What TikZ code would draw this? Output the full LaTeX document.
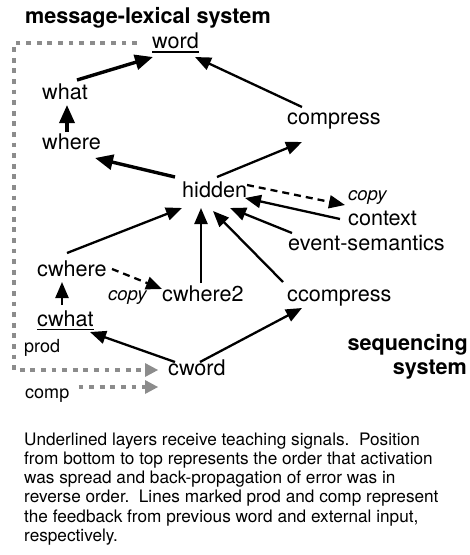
\documentclass[tikz,border=0pt]{standalone}
\usepackage{fontspec}
\setmainfont{TeX Gyre Heros}
\usetikzlibrary{arrows.meta,calc}
\definecolor{fbgray}{HTML}{8C8C8C}
\tikzset{
  lbl/.style={inner sep=0pt, anchor=base west, font=\fontsize{21.6}{26}\selectfont},
  ttl/.style={inner sep=0pt, font=\bfseries\fontsize{21.6}{26}\selectfont},
  cpy/.style={inner sep=0pt, anchor=base west, font=\itshape\fontsize{18.5}{22}\selectfont},
  small/.style={inner sep=0pt, anchor=base west, font=\fontsize{18}{22}\selectfont},
  capline/.style={inner sep=0pt, anchor=base west, font=\fontsize{17.2}{20}\selectfont},
  conn/.style={line width=2.3pt, -{Triangle[length=16pt,width=13pt]}},
  thickconn/.style={line width=3.4pt, -{Triangle[length=18pt,width=15pt]}},
  dconn/.style={conn, dash pattern=on 7pt off 5pt},
  fb/.style={draw=fbgray, line width=4.8pt, dash pattern=on 4.8pt off 5.8pt},
  fbtip/.style={fill=fbgray, draw=none},
  uline/.style={line width=1.5pt}
}
\begin{document}
\begin{tikzpicture}[x=1pt,y=-1pt]
\useasboundingbox (0,0) rectangle (470,555);

% titles
\node[ttl, anchor=base west] (title) at (25,23) {message-lexical system};
\node[ttl, anchor=base east] (seq) at (468,350) {sequencing};
\node[ttl, anchor=base east] (sys) at (467,374) {system};

% layers
\node[lbl] (word) at (152,48) {word};
\node[lbl] (what) at (42,99) {what};
\node[lbl] (where) at (42,149) {where};
\node[lbl] (compress) at (287,124) {compress};
\node[lbl] (hidden) at (182,197) {hidden};
\node[cpy] (copyA) at (348,200) {copy};
\node[lbl] (context) at (348,225) {context};
\node[lbl] (evsem) at (288,250) {event-semantics};
\node[lbl] (cwhere) at (37,276) {cwhere};
\node[cpy] (copyB) at (108,300) {copy};
\node[lbl] (cwhere2) at (162,301) {cwhere2};
\node[lbl] (ccompress) at (287,301) {ccompress};
\node[lbl] (cwhat) at (37,326) {cwhat};
\node[small] (prod) at (24,352) {prod};
\node[lbl] (cword) at (168,375) {cword};
\node[small] (comp) at (25,398) {comp};

% underlines
\draw[uline] ([yshift=-4pt]word.base west) -- ([yshift=-4pt]word.base east);
\draw[uline] ([yshift=-3.5pt]cwhat.base west) -- ([yshift=-3.5pt]cwhat.base east);

% feedback lines
\coordinate (fbTL) at (14,43);
\coordinate (fbBL) at (14,370);
\coordinate (fbS) at ($(word.base west)+(-15,-5)$);
\coordinate (fbE) at ($(cword.base west)+(-23,-5)$);
\draw[fb] (fbS) -- (fbTL) -- (fbBL) -- (fbE);
\fill[fbtip] ($(fbE)+(0,-7)$) -- ($(fbE)+(13,0)$) -- ($(fbE)+(0,7)$) -- cycle;
\coordinate (cpS) at ($(comp.base east)+(9,-11)$);
\coordinate (cpE) at ($(cword.base west)+(-23,12)$);
\draw[fb] (cpS) -- (cpE);
\fill[fbtip] ($(cpE)+(0,-7)$) -- ($(cpE)+(13,0)$) -- ($(cpE)+(0,7)$) -- cycle;

% connectors
\draw[thickconn] ($(what.base west)+(35,-19)$) -- ($(word.base west)+(1,9)$);
\draw[conn] ($(compress.base west)+(15,-17)$) -- ($(word.base west)+(43,9)$);
\draw[thickconn] ($(where.base west)+(25,-17)$) -- ($(what.base west)+(25,6)$);
\draw[thickconn] ($(hidden.base west)+(-7,-20)$) -- ($(where.base west)+(53,9)$);
\draw[conn] ($(hidden.base west)+(35,-20)$) -- ($(compress.base west)+(15,18)$);
\draw[dconn] ($(hidden.base west)+(65,-12)$) -- ($(context.base west)+(-3,-20)$);
\draw[conn] ($(context.base west)+(-8,-6)$) -- ($(hidden.base west)+(63,1)$);
\draw[conn] ($(evsem.base west)+(4,-17)$) -- ($(hidden.base west)+(48,11)$);
\draw[conn] ($(ccompress.base west)+(-4,-19)$) -- ($(hidden.base west)+(31,14)$);
\draw[conn] ($(cwhere2.base west)+(39,-18)$) -- ($(hidden.base west)+(19,11)$);
\draw[conn] ($(cwhere.base west)+(30,-23)$) -- ($(hidden.base west)+(0,11)$);
\draw[dconn] ($(cwhere.base west)+(75,-7)$) -- ($(cwhere2.base west)+(0,-12)$);
\draw[conn] ($(cwhat.base west)+(25,-21)$) -- ($(cwhere.base west)+(25,6)$);
\draw[conn] ($(cword.base west)+(7,-13)$) -- ($(cwhat.base west)+(53,6)$);
\draw[conn] ($(cword.base west)+(32,-13)$) -- ($(ccompress.base west)+(15,7)$);

% caption
\node[capline] (cap1) at (24,445) {Underlined layers receive teaching signals.\ \ Position};
\node[capline] (cap2) at (24,464.3) {from bottom to top represents the order that activation};
\node[capline] (cap3) at (24,483.6) {was spread and back-propagation of error was in};
\node[capline] (cap4) at (24,502.9) {reverse order.\ \ Lines marked prod and comp represent};
\node[capline] (cap5) at (24,522.2) {the feedback from previous word and external input,};
\node[capline] (cap6) at (24,541.5) {respectively.};
\end{tikzpicture}
\end{document}
